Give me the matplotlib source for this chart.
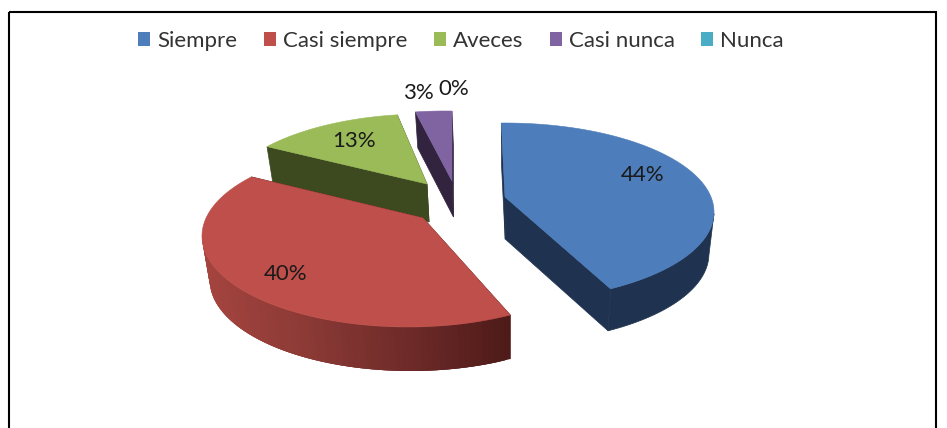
import numpy as np
import matplotlib
matplotlib.use("Agg")
import matplotlib.pyplot as plt
from matplotlib.patches import Patch, Polygon, Rectangle
from matplotlib.colors import LinearSegmentedColormap

# values as printed on the slices
categories = ["Siempre", "Casi siempre", "Aveces", "Casi nunca", "Nunca"]
percent = [44, 40, 13, 3, 0]
colors = ["#4d7dba", "#be4f4a", "#9bbb59", "#8064a2", "#4bacc6"]
wall_colors = ["#1f3350", "#4f1b18", "#3d4a20", "#32243f", "#1f4a56"]

# layout of the exploded slices, in pixels (y goes down)
apex = [(505, 197), (423, 218), (427, 184), (452, 181), (452, 181)]
center = [(505, 212), (408, 236), (425, 205), (445, 202), (445, 202)]
radius_x = [209, 206, 206, 206, 206]
radius_y = [89, 91, 91, 91, 91]
skew = [0.05, -0.2, -0.1, 0.0, 0.0]
depth = [42, 44, 38, 36, 36]
label_pos = [(643, 175), (286, 274), (354, 141), (418, 93), (454, 89)]

TILT = 0.36
AXIS_X = 510
SHRINK = 0.975
red_rim = LinearSegmentedColormap.from_list("rim", ["#a5443f", "#8c3a36", "#6f2b29", "#4e1b19"])


def ray_hit(a, c, rx, ry, s, theta):
    # where the ray from the slice apex leaves the ellipse of the disc
    dy = -np.cos(theta) * TILT
    dx = np.sin(theta) + s * dy
    ox = (a[0] - c[0]) / rx
    oy = (a[1] - c[1]) / ry
    ux = dx / rx
    uy = dy / ry
    qa = ux * ux + uy * uy
    qb = 2 * (ox * ux + oy * uy)
    qc = ox * ox + oy * oy - 1
    t = (-qb + np.sqrt(qb * qb - 4 * qa * qc)) / (2 * qa)
    return np.array([a[0] + t * dx, a[1] + t * dy])


def lower(p, d):
    # bottom edge of the slice: lower down and a bit narrower
    return np.array([AXIS_X + (p[0] - AXIS_X) * SHRINK, p[1] + d])


fig = plt.figure(figsize=(9.47, 4.28), dpi=100)
ax = fig.add_axes([0, 0, 1, 1])
ax.set_xlim(0, 947)
ax.set_ylim(428, 0)
ax.axis("off")

ax.add_patch(Rectangle((9, 12), 927, 440, fill=False, ec="black", lw=1.5, zorder=1))

fractions = np.array(percent) / sum(percent)
ends = np.cumsum(fractions) * 2 * np.pi
starts = ends - fractions * 2 * np.pi

# back slices first, blue last
z = 2
for i in [3, 2, 1, 0]:
    a = np.array(apex[i], dtype=float)
    thetas = np.linspace(starts[i], ends[i], 120)
    arc = np.array([ray_hit(a, center[i], radius_x[i], radius_y[i], skew[i], t) for t in thetas])
    d = depth[i]

    # flat walls along the two cut edges
    for edge in (arc[0], arc[-1]):
        wall = [edge, a, lower(a, d), lower(edge, d)]
        ax.add_patch(Polygon(wall, closed=True, fc=wall_colors[i], ec=wall_colors[i], lw=0.5, zorder=z))

    # outer rim, front half only
    front = arc[arc[:, 1] >= center[i][1]]
    if len(front) > 1:
        if i == 1:
            # gradient: each strip overlaps the next so no seams show
            for k in range(len(front) - 1):
                strip = front[k:k + 4]
                col = red_rim((strip[0][0] - 202) / (510 - 202))
                quad = list(strip) + [lower(p, d) for p in strip[::-1]]
                ax.add_patch(Polygon(quad, closed=True, fc=col, ec="none", zorder=z))
        else:
            quad = list(front) + [lower(p, d) for p in front[::-1]]
            ax.add_patch(Polygon(quad, closed=True, fc=wall_colors[i], ec=wall_colors[i], lw=0.5, zorder=z))

    top = np.vstack([a, arc])
    ax.add_patch(Polygon(top, closed=True, fc=colors[i], ec=colors[i], lw=0.4, zorder=z + 1))
    z += 2

for pos, val in zip(label_pos, percent):
    ax.text(pos[0], pos[1], f"{val}%", ha="center", va="center", fontsize=16,
            family="Lato", color="#1a1a1a", zorder=20)

handles = [Patch(fc=c, ec="none") for c in colors[:5]]
ax.legend(handles, categories, loc="center", bbox_to_anchor=(461 / 947, 1 - 41 / 428), ncol=5,
          frameon=False, prop={"family": "Lato", "size": 16}, labelcolor="#333333",
          handlelength=0.55, handleheight=0.55, handletextpad=0.3, columnspacing=1.2)

fig.savefig("out.png", dpi=100)
